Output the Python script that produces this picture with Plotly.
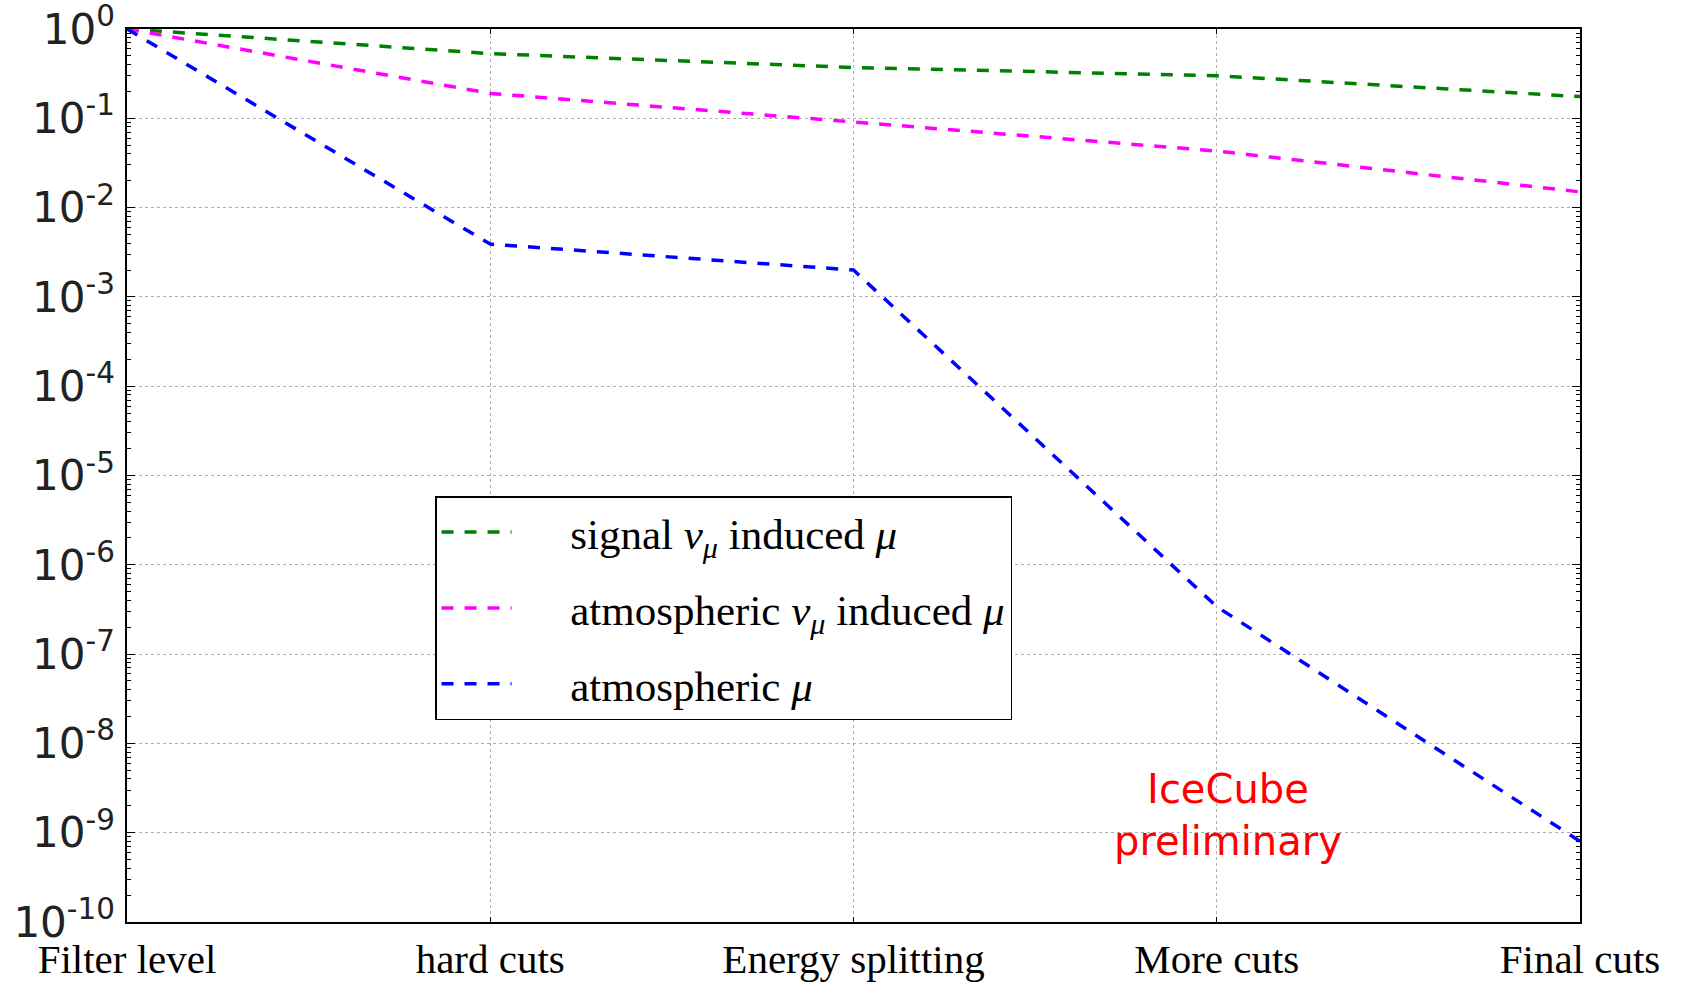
import plotly.graph_objects as go

categories = ["Filter level", "hard cuts", "Energy splitting", "More cuts", "Final cuts"]
signal_numu = [1.0, 0.53, 0.37, 0.30, 0.175]
atmo_numu = [1.0, 0.19, 0.091, 0.043, 0.015]
atmo_mu = [1.0, 0.0039, 0.002, 3.4e-7, 8e-10]
y_exponents = list(range(0, -11, -1))

pad = "&nbsp;" * 5
names = [pad + "signal <i>ν</i><sub><i>μ</i></sub> induced <i>μ</i>",
         pad + "atmospheric <i>ν</i><sub><i>μ</i></sub> induced <i>μ</i>",
         pad + "atmospheric <i>μ</i>"]
colors = ["#008000", "#ff00ff", "#0000ff"]
series = [signal_numu, atmo_numu, atmo_mu]

x = list(range(len(categories)))
fig = go.Figure()
for i, (nm, col, ys) in enumerate(zip(names, colors, series)):
    fig.add_trace(go.Scatter(x=x, y=ys, mode="lines", name=nm, legendgroup=str(i),
                             line=dict(color=col, width=3.5, dash="12px,11px")))

fig.add_annotation(x=3.03, y=-8.8, xref="x", yref="y",
                   text="IceCube<br>preliminary", showarrow=False,
                   font=dict(family="DejaVu Sans", size=40, color="#ff0000"),
                   align="center")

fig.update_layout(
    width=1681, height=982,
    margin=dict(l=127, r=101, t=29, b=60),
    paper_bgcolor="white", plot_bgcolor="white",
    showlegend=True,
    legend=dict(x=0.212, y=0.477, xanchor="left", yanchor="top",
                bgcolor="white", bordercolor="black", borderwidth=1.5,
                font=dict(family="Liberation Serif", size=43, color="black"),
                tracegroupgap=17, itemwidth=70),
)
fig.update_xaxes(range=[0, 4], tickvals=x, ticktext=categories, automargin=False,
                 showgrid=True, gridcolor="#b0b0b0", griddash="dot", gridwidth=1,
                 showline=True, linecolor="black", linewidth=1.5, mirror="allticks",
                 ticks="inside", ticklen=5, tickcolor="black", ticklabeloverflow="allow",
                 tickfont=dict(family="Liberation Serif", size=41, color="black"),
                 ticklabelstandoff=0, zeroline=False)
fig.update_yaxes(type="log", range=[-10, 0], automargin=False,
                 tickvals=[10 ** e for e in y_exponents],
                 ticktext=[f"10<sup>{e}</sup>" for e in y_exponents],
                 showgrid=True, gridcolor="#b0b0b0", griddash="dot", gridwidth=1,
                 showline=True, linecolor="black", linewidth=1.5, mirror="allticks",
                 ticks="inside", ticklen=8, tickcolor="black", ticklabeloverflow="allow",
                 minor=dict(ticks="inside", ticklen=4, tickcolor="black", dtick="D1", showgrid=False),
                 tickfont=dict(family="DejaVu Sans", size=42, color="#222222"),
                 ticklabelstandoff=2, zeroline=False)

fig.write_html("out.html")
